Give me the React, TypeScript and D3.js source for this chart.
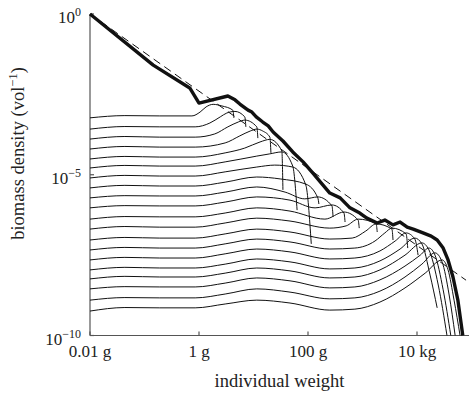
import React from 'react';
import * as d3 from 'd3';

const W = 469;
const H = 394;

// axis ticks
const xTicks = [0.01, 1, 100, 10000];
const xTickLabels = ['0.01 g', '1 g', '100 g', '10 kg'];
const yTicks = [1, 1e-5, 1e-10];
const yTickExps = ['0', '\u22125', '\u221210'];

// all series: [log10 weight (g), log10 biomass density]
const powerLaw: [number, number][] = [[-2, 0], [4.9, -8.28]];

const envelope: [number, number][] = [
  [-2, 0], [-0.84, -1.59], [-0.17, -2.3], [0.0, -2.77], [0.53, -2.55], [0.66, -2.67], [0.75, -2.8],
  [0.9, -2.99], [0.97, -3.05], [1.05, -3.2], [1.17, -3.36], [1.27, -3.48], [1.36, -3.67], [1.54, -3.95],
  [1.72, -4.29], [1.91, -4.6], [2.09, -4.95], [2.26, -5.29], [2.4, -5.57], [2.59, -5.72], [2.77, -6.03],
  [2.95, -6.19], [3.08, -6.35], [3.27, -6.5], [3.41, -6.41], [3.56, -6.56], [3.69, -6.47], [3.82, -6.63],
  [3.93, -6.69], [4.11, -6.81], [4.26, -6.91], [4.37, -7.03], [4.48, -7.28], [4.57, -7.65], [4.66, -8.18],
  [4.75, -8.9], [4.84, -10],
];

const snap00: [number, number][] = [[-2, -3.23], [-1.36, -3.16], [-0.72, -3.17], [-0.13, -3.17], [0.02, -3.05], [0.13, -2.89], [0.26, -2.81], [0.42, -2.86], [0.62, -2.99], [0.64, -3.23]];
const snap01: [number, number][] = [[-2, -3.58], [-1.36, -3.5], [-0.72, -3.51], [-0.07, -3.51], [0.2, -3.39], [0.39, -3.2], [0.51, -3.08], [0.66, -3.03], [0.84, -3.2], [0.86, -3.51]];
const snap02: [number, number][] = [[-2, -3.89], [-1.36, -3.81], [-0.72, -3.83], [-0.07, -3.83], [0.29, -3.73], [0.53, -3.51], [0.72, -3.36], [0.84, -3.3], [1.06, -3.51], [1.08, -3.86]];
const snap03: [number, number][] = [[-2, -4.2], [-1.36, -4.12], [-0.72, -4.14], [-0.07, -4.14], [0.48, -4.01], [0.75, -3.79], [0.94, -3.64], [1.06, -3.58], [1.17, -3.64], [1.3, -3.83], [1.32, -4.32]];
const snap04: [number, number][] = [[-2, -4.51], [-1.36, -4.43], [-0.72, -4.45], [-0.07, -4.45], [0.48, -4.32], [0.84, -4.17], [1.12, -3.98], [1.3, -3.9], [1.52, -4.26], [1.54, -5.47]];
const snap05: [number, number][] = [[-2, -4.79], [-1.36, -4.71], [-0.72, -4.73], [-0.07, -4.73], [0.48, -4.6], [1.06, -4.42], [1.3, -4.35], [1.52, -4.29], [1.72, -4.73], [1.8, -6.1]];
const snap06: [number, number][] = [[-2, -5.1], [-1.36, -5.02], [-0.72, -5.04], [-0.07, -5.04], [0.48, -4.91], [1.06, -4.76], [1.39, -4.7], [1.72, -4.76], [1.96, -5.32], [2.06, -7.15]];
const snap07: [number, number][] = [[-2, -5.41], [-1.36, -5.33], [-0.72, -5.35], [-0.07, -5.35], [0.48, -5.23], [1.06, -5.07], [1.49, -5.13], [1.96, -5.29], [2.18, -5.72], [2.2, -5.91]];
const snap08: [number, number][] = [[-2, -5.72], [-1.36, -5.65], [-0.72, -5.66], [-0.07, -5.66], [0.48, -5.54], [1.06, -5.38], [1.58, -5.54], [1.94, -5.75], [2.18, -5.69], [2.44, -5.97], [2.46, -6.31]];
const snap09: [number, number][] = [[-2, -6.03], [-1.36, -5.96], [-0.72, -5.97], [-0.07, -5.97], [0.48, -5.85], [1.06, -5.69], [1.67, -5.79], [2.13, -6.03], [2.44, -5.94], [2.66, -6.19], [2.68, -6.47]];
const snap10: [number, number][] = [[-2, -6.38], [-1.36, -6.3], [-0.72, -6.31], [-0.07, -6.31], [0.48, -6.19], [1.06, -6.03], [1.67, -6.13], [2.31, -6.38], [2.66, -6.16], [2.92, -6.41], [2.94, -6.66]];
const snap11: [number, number][] = [[-2, -6.69], [-1.36, -6.61], [-0.72, -6.63], [-0.07, -6.63], [0.48, -6.5], [1.06, -6.35], [1.67, -6.44], [2.4, -6.66], [2.7, -6.59], [2.92, -6.38], [3.25, -6.53], [3.27, -6.78]];
const snap12: [number, number][] = [[-2, -7.03], [-1.36, -6.95], [-0.72, -6.97], [-0.07, -6.97], [0.48, -6.84], [1.06, -6.69], [1.67, -6.78], [2.4, -7.0], [2.81, -6.97], [3.06, -6.75], [3.25, -6.53], [3.54, -6.69], [3.56, -7.03]];
const snap13: [number, number][] = [[-2, -7.34], [-1.36, -7.26], [-0.72, -7.28], [-0.07, -7.28], [0.48, -7.15], [1.06, -7.0], [1.67, -7.09], [2.4, -7.31], [2.86, -7.28], [3.23, -7.06], [3.41, -6.81], [3.54, -6.66], [3.8, -6.84], [3.83, -7.28]];
const snap14: [number, number][] = [[-2, -7.65], [-1.36, -7.57], [-0.72, -7.59], [-0.07, -7.59], [0.48, -7.46], [1.06, -7.31], [1.67, -7.4], [2.4, -7.62], [2.86, -7.59], [3.32, -7.37], [3.6, -7.06], [3.8, -6.81], [3.96, -7.0], [4.02, -7.5]];
const snap15: [number, number][] = [[-2, -7.96], [-1.36, -7.88], [-0.72, -7.9], [-0.07, -7.9], [0.48, -7.78], [1.06, -7.62], [1.67, -7.71], [2.4, -7.93], [2.86, -7.9], [3.32, -7.68], [3.69, -7.31], [3.96, -6.97], [4.09, -7.15], [4.24, -8.12], [4.37, -9.14]];
const snap16: [number, number][] = [[-2, -8.24], [-1.36, -8.16], [-0.72, -8.18], [-0.07, -8.18], [0.48, -8.06], [1.06, -7.9], [1.67, -7.99], [2.4, -8.21], [2.86, -8.18], [3.32, -7.96], [3.78, -7.5], [4.09, -7.12], [4.22, -7.34], [4.39, -8.43], [4.55, -10]];
const snap17: [number, number][] = [[-2, -8.55], [-1.36, -8.48], [-0.72, -8.49], [-0.07, -8.49], [0.48, -8.37], [1.06, -8.21], [1.67, -8.3], [2.4, -8.52], [2.86, -8.49], [3.32, -8.27], [3.78, -7.84], [4.06, -7.5], [4.22, -7.28], [4.33, -7.5], [4.48, -8.58], [4.62, -10]];
const snap18: [number, number][] = [[-2, -8.9], [-1.36, -8.82], [-0.72, -8.83], [-0.07, -8.83], [0.48, -8.71], [1.06, -8.55], [1.67, -8.65], [2.4, -8.86], [2.86, -8.83], [3.32, -8.62], [3.78, -8.18], [4.09, -7.78], [4.33, -7.43], [4.46, -7.71], [4.59, -8.74], [4.7, -10]];
const snap19: [number, number][] = [[-2, -9.24], [-1.36, -9.13], [-0.72, -9.14], [-0.07, -9.14], [0.48, -9.02], [1.06, -8.9], [1.67, -8.99], [2.4, -9.21], [2.86, -9.18], [3.32, -8.96], [3.78, -8.52], [4.15, -8.06], [4.46, -7.65], [4.57, -7.96], [4.68, -8.9], [4.79, -10]];

const snapshots = [snap00, snap01, snap02, snap03, snap04, snap05, snap06, snap07, snap08, snap09,
  snap10, snap11, snap12, snap13, snap14, snap15, snap16, snap17, snap18, snap19];

export default function App() {
  const x = d3.scaleLog().domain([0.01, 1e5]).range([90, 471.5]);
  const y = d3.scaleLog().domain([1e-10, 1]).range([335.5, 14]);
  const px = (d: [number, number]) => x(Math.pow(10, d[0]));
  const py = (d: [number, number]) => y(Math.pow(10, d[1]));
  const smooth = d3.line<[number, number]>().x(px).y(py).curve(d3.curveMonotoneX);
  const straight = d3.line<[number, number]>().x(px).y(py);
  const font = "'Liberation Serif', 'Times New Roman', serif";
  const axisColor = '#555';
  const y0 = y(1e-10);
  const xEnd = W;

  return (
    <svg width={W} height={H} style={{ position: 'absolute', left: 0, top: 0, background: '#fff' }} fontFamily={font}>
      {/* axes */}
      <line x1={x(0.01)} x2={x(0.01)} y1={y(1)} y2={y0} stroke={axisColor} strokeWidth={1.2} />
      <line x1={x(0.01)} x2={xEnd} y1={y0} y2={y0} stroke={axisColor} strokeWidth={1.2} />
      {xTicks.map((t) => (
        <line key={'xt' + t} x1={x(t)} x2={x(t)} y1={y0} y2={y0 - 4} stroke={axisColor} strokeWidth={1.2} />
      ))}
      {yTicks.map((t) => (
        <line key={'yt' + t} x1={x(0.01)} x2={x(0.01) + 4} y1={y(t)} y2={y(t)} stroke={axisColor} strokeWidth={1.2} />
      ))}

      {/* snapshots */}
      {snapshots.map((s, i) => (
        <path key={'s' + i} d={smooth(s) || ''} fill="none" stroke="#111" strokeWidth={1} />
      ))}

      {/* power law reference */}
      <path d={straight(powerLaw) || ''} fill="none" stroke="#111" strokeWidth={1} strokeDasharray="8,5" />

      {/* envelope */}
      <path d={straight(envelope) || ''} fill="none" stroke="#111" strokeWidth={3.4} strokeLinejoin="round" />

      {/* tick labels */}
      {xTicks.map((t, i) => (
        <text key={'xl' + t} x={x(t)} y={357} textAnchor="middle" fontSize={17} fill="#222">{xTickLabels[i]}</text>
      ))}
      {yTicks.map((t, i) => (
        <text key={'yl' + t} x={81} y={y(t) + 9} textAnchor="end" fontSize={17} fill="#222">
          10<tspan dy={-7} fontSize={12}>{yTickExps[i]}</tspan>
        </text>
      ))}

      {/* axis titles */}
      <text x={(x(0.01) + W) / 2} y={387} textAnchor="middle" fontSize={18.5} fill="#222">individual weight</text>
      <text transform="translate(24,153.5) rotate(-90)" textAnchor="middle" fontSize={18.5} fill="#222">
        biomass density (vol<tspan dy={-7} fontSize={12.5}>{'\u22121'}</tspan><tspan dy={7}>)</tspan>
      </text>
    </svg>
  );
}
